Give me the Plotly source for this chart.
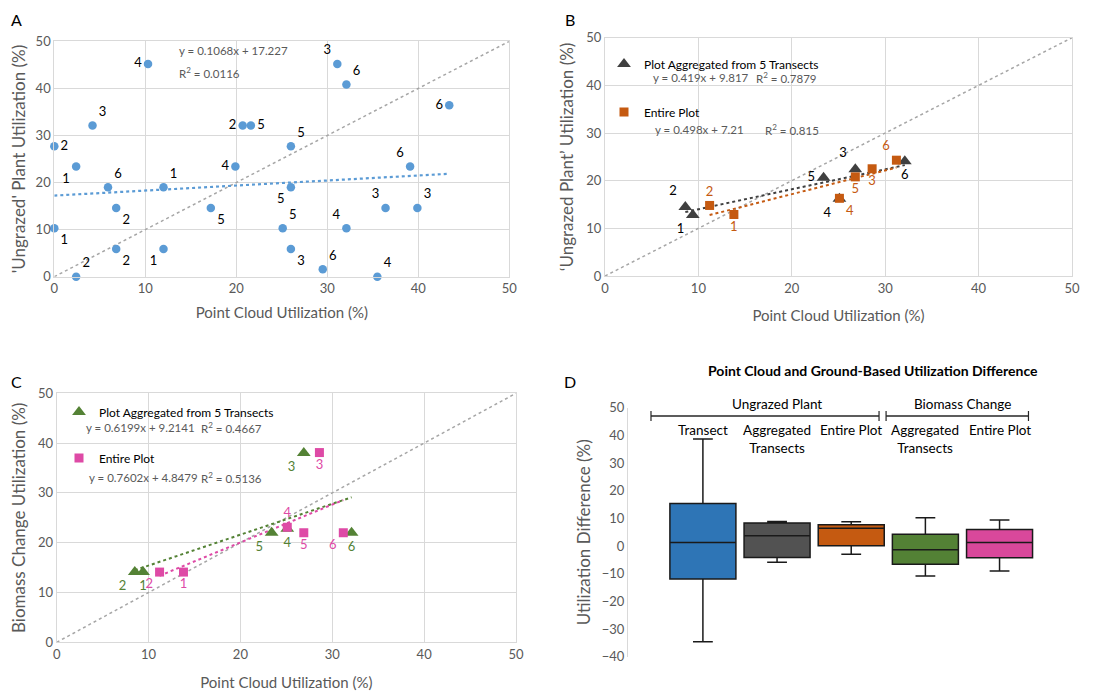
import plotly.graph_objects as go

W, H = 1108, 693
PAGE_OFF = 8  # browser body margin
FONT = "Lato"
GRAY_TXT = "#595959"
GRID = "#d9d9d9"

# ---------------- Panel A data ----------------
A_x = [0, 2.4, 4.2, 10.3, 5.9, 12.0, 6.8, 0, 6.8, 12.0, 2.4, 17.2, 19.9, 20.7,
       21.6, 26.0, 26.0, 25.1, 26.0, 29.5, 31.1, 32.1, 32.1, 35.5, 36.4, 39.1, 39.9, 43.4]
A_y = [27.7, 23.4, 32.1, 45.2, 19.0, 19.0, 14.6, 10.3, 5.9, 5.9, 0, 14.6, 23.4, 32.1,
       32.1, 27.7, 19.0, 10.3, 5.9, 1.6, 45.2, 40.8, 10.3, 0, 14.6, 23.4, 14.6, 36.4]
A_lab = ["2", "1", "3", "4", "6", "1", "2", "1", "2", "1", "2", "5", "4", "2",
         "5", "5", "5", "5", "3", "6", "3", "6", "4", "4", "3", "6", "3", "6"]
A_pos = ["middle right", "bottom left", "top right", "middle left", "top right", "top right",
         "bottom right", "bottom right", "bottom right", "bottom left", "top right", "bottom right",
         "middle left", "middle left", "middle right", "top right", "bottom left", "top right",
         "bottom right", "top right", "top left", "top right", "top left", "top right",
         "top left", "top left", "top right", "middle left"]
A_fit = (0.1068, 17.227)
A_r2 = 0.0116

# ---------------- Panel B data ----------------
B_tri_x = [8.6, 9.4, 23.4, 25.1, 26.8, 32.1]
B_tri_y = [14.5, 12.8, 20.6, 16.2, 22.4, 24.1]
B_tri_lab = ["2", "1", "5", "4", "3", "6"]
B_tri_pos = ["top left", "bottom left", "middle left", "bottom left", "top left", "bottom center"]
B_sq_x = [11.2, 13.8, 25.1, 26.8, 28.6, 31.2]
B_sq_y = [14.8, 12.9, 16.3, 20.8, 22.5, 24.3]
B_sq_lab = ["2", "1", "4", "5", "3", "6"]
B_sq_pos = ["top center", "bottom center", "bottom right", "bottom center", "bottom center", "top left"]
B_tri_fit = (0.419, 9.817)
B_sq_fit = (0.498, 7.21)
B_r2 = (0.7879, 0.815)

# ---------------- Panel C data ----------------
C_tri_x = [8.5, 9.4, 23.4, 25.1, 26.9, 32.1]
C_tri_y = [14.1, 14.1, 22.0, 22.8, 38.0, 22.0]
C_tri_lab = ["2", "1", "5", "4", "3", "6"]
C_tri_pos = ["bottom left", "bottom center", "bottom left", "bottom center", "bottom left", "bottom center"]
C_sq_x = [11.2, 13.8, 25.1, 26.9, 28.6, 31.2]
C_sq_y = [14.1, 14.1, 23.1, 22.0, 38.1, 22.0]
C_sq_lab = ["2", "1", "4", "5", "3", "6"]
C_sq_pos = ["bottom left", "bottom center", "top center", "bottom center", "bottom center", "bottom left"]
C_tri_fit = (0.6199, 9.2141)
C_sq_fit = (0.7602, 4.8479)
C_r2 = (0.4667, 0.5136)

ONE_TO_ONE = [0, 50]

# ---------------- Panel D data ----------------
D_names = ["Transect", "Aggregated<br>Transects", "Entire Plot", "Aggregated<br>Transects", "Entire Plot"]
D_lower = [-34.6, -5.9, -3.0, -10.8, -9.0]
D_q1 = [-11.9, -4.1, 0.1, -6.6, -4.2]
D_med = [1.3, 3.7, 6.4, -1.3, 1.3]
D_q3 = [15.4, 8.3, 7.7, 4.3, 6.0]
D_upper = [38.7, 8.9, 8.8, 10.2, 9.4]
D_colors = ["#2E75B6", "#525252", "#C55A11", "#538135", "#D9489B"]
D_groups = ["Ungrazed Plant", "Biomass Change"]

C_BLUE = "#5B9BD5"
C_TRI_B = "#404040"
C_SQ_B = "#C55A11"
C_TRI_C = "#548235"
C_SQ_C = "#DE4AA6"


def fx(p):
    return (p - PAGE_OFF) / W


def fy(p):
    return 1 - (p - PAGE_OFF) / H


def fit_line(xs, coef):
    x0, x1 = min(xs), max(xs)
    return [x0, x1], [coef[0] * x0 + coef[1], coef[0] * x1 + coef[1]]


fig = go.Figure()
DIAG = dict(color="#A6A6A6", width=1.5, dash="dot")

# ---- A ----
fig.add_trace(go.Scatter(x=ONE_TO_ONE, y=ONE_TO_ONE, mode="lines", xaxis="x", yaxis="y",
                         line=DIAG, showlegend=False, hoverinfo="skip"))
lx, ly = fit_line([0] + A_x, A_fit)
fig.add_trace(go.Scatter(x=lx, y=ly, mode="lines", xaxis="x", yaxis="y",
                         line=dict(color=C_BLUE, width=2.2, dash="dot"), showlegend=False))
fig.add_trace(go.Scatter(x=A_x, y=A_y, mode="markers+text", text=A_lab, textposition=A_pos,
                         textfont=dict(family=FONT, size=13, color="black"), xaxis="x", yaxis="y",
                         marker=dict(color=C_BLUE, size=8.5), showlegend=False, cliponaxis=False))

# ---- B ----
fig.add_trace(go.Scatter(x=ONE_TO_ONE, y=ONE_TO_ONE, mode="lines", xaxis="x2", yaxis="y2",
                         line=DIAG, showlegend=False))
lx, ly = fit_line(B_tri_x, B_tri_fit)
fig.add_trace(go.Scatter(x=lx, y=ly, mode="lines", xaxis="x2", yaxis="y2",
                         line=dict(color=C_TRI_B, width=2, dash="dot"), showlegend=False))
lx, ly = fit_line(B_sq_x, B_sq_fit)
fig.add_trace(go.Scatter(x=lx, y=ly, mode="lines", xaxis="x2", yaxis="y2",
                         line=dict(color=C_SQ_B, width=2, dash="dot"), showlegend=False))
fig.add_trace(go.Scatter(x=B_tri_x, y=B_tri_y, mode="markers+text", text=B_tri_lab,
                         textposition=B_tri_pos, name="Plot Aggregated from 5 Transects",
                         textfont=dict(family=FONT, size=13, color="black"), xaxis="x2", yaxis="y2",
                         marker=dict(color=C_TRI_B, size=12, symbol="triangle-up"),
                         legend="legend", legendgroup="bt", cliponaxis=False))
fig.add_trace(go.Scatter(x=B_sq_x, y=B_sq_y, mode="markers+text", text=B_sq_lab,
                         textposition=B_sq_pos, name="Entire Plot",
                         textfont=dict(family=FONT, size=13, color=C_SQ_B), xaxis="x2", yaxis="y2",
                         marker=dict(color=C_SQ_B, size=9, symbol="square"),
                         legend="legend", legendgroup="bs", cliponaxis=False))

# ---- C ----
fig.add_trace(go.Scatter(x=ONE_TO_ONE, y=ONE_TO_ONE, mode="lines", xaxis="x3", yaxis="y3",
                         line=DIAG, showlegend=False))
lx, ly = fit_line(C_tri_x, C_tri_fit)
fig.add_trace(go.Scatter(x=lx, y=ly, mode="lines", xaxis="x3", yaxis="y3",
                         line=dict(color=C_TRI_C, width=2, dash="dot"), showlegend=False))
lx, ly = fit_line(C_sq_x, C_sq_fit)
fig.add_trace(go.Scatter(x=lx, y=ly, mode="lines", xaxis="x3", yaxis="y3",
                         line=dict(color=C_SQ_C, width=2, dash="dot"), showlegend=False))
fig.add_trace(go.Scatter(x=C_tri_x, y=C_tri_y, mode="markers+text", text=C_tri_lab,
                         textposition=C_tri_pos, name="Plot Aggregated from 5 Transects",
                         textfont=dict(family=FONT, size=13, color=C_TRI_C), xaxis="x3", yaxis="y3",
                         marker=dict(color=C_TRI_C, size=12, symbol="triangle-up"),
                         legend="legend2", legendgroup="ct", cliponaxis=False))
fig.add_trace(go.Scatter(x=C_sq_x, y=C_sq_y, mode="markers+text", text=C_sq_lab,
                         textposition=C_sq_pos, name="Entire Plot",
                         textfont=dict(family=FONT, size=13, color=C_SQ_C), xaxis="x3", yaxis="y3",
                         marker=dict(color=C_SQ_C, size=9, symbol="square"),
                         legend="legend2", legendgroup="cs", cliponaxis=False))

# ---- D ----
for i in range(len(D_names)):
    fig.add_trace(go.Box(x=[i], q1=[D_q1[i]], median=[D_med[i]], q3=[D_q3[i]],
                         lowerfence=[D_lower[i]], upperfence=[D_upper[i]],
                         xaxis="x4", yaxis="y4", width=0.89, whiskerwidth=0.3,
                         fillcolor=D_colors[i], line=dict(color="#1a1a1a", width=1.5),
                         boxpoints=False, showlegend=False))

scatter_axis = dict(range=[0, 50], dtick=10, showgrid=True, gridcolor=GRID, gridwidth=1,
                    showline=True, linecolor=GRID, mirror=True, zeroline=False,
                    tickfont=dict(family=FONT, size=13, color=GRAY_TXT), ticks="")
XT = dict(family=FONT, size=15, color=GRAY_TXT)
YT = dict(family=FONT, size=17, color=GRAY_TXT)

fig.update_layout(
    width=W, height=H, paper_bgcolor="white", plot_bgcolor="white",
    margin=dict(l=0, r=0, t=0, b=0, autoexpand=False),
    font=dict(family=FONT),
    xaxis=dict(scatter_axis, domain=[fx(54.3), fx(509.3)], anchor="y",
               title=dict(text="Point Cloud Utilization (%)", standoff=12, font=XT)),
    yaxis=dict(scatter_axis, domain=[fy(276.7), fy(41.3)], anchor="x",
               title=dict(text="'Ungrazed' Plant Utilization (%)", standoff=8, font=YT)),
    xaxis2=dict(scatter_axis, domain=[fx(605), fx(1072)], anchor="y2",
                title=dict(text="Point Cloud Utilization (%)", standoff=15, font=XT)),
    yaxis2=dict(scatter_axis, domain=[fy(276), fy(37.7)], anchor="x2",
                title=dict(text="\u2018Ungrazed Plant\u2019 Utilization (%)", standoff=8, font=YT)),
    xaxis3=dict(scatter_axis, domain=[fx(56.7), fx(516)], anchor="y3",
                title=dict(text="Point Cloud Utilization (%)", standoff=16, font=XT)),
    yaxis3=dict(scatter_axis, domain=[fy(642.3), fy(393.3)], anchor="x3",
                title=dict(text="Biomass Change Utilization (%)", standoff=9, font=YT)),
    xaxis4=dict(domain=[fx(628), fx(1070)], anchor="y4", range=[-1.01, 4.95],
                showgrid=False, zeroline=False, showline=False, showticklabels=False),
    yaxis4=dict(domain=[fy(656.7), fy(407.7)], anchor="x4", range=[-40, 50], dtick=10,
                showgrid=False, zeroline=False, showline=True, linecolor=GRID, ticks="",
                tickfont=dict(family=FONT, size=13, color=GRAY_TXT),
                title=dict(text="Utilization Difference (%)", standoff=6, font=YT)),
    legend=dict(x=fx(604), y=fy(49.5), xanchor="left", yanchor="top", bgcolor="rgba(0,0,0,0)",
                font=dict(family=FONT, size=12, color="black"), tracegroupgap=29,
                itemclick=False),
    legend2=dict(x=fx(59), y=fy(397.5), xanchor="left", yanchor="top", bgcolor="rgba(0,0,0,0)",
                 font=dict(family=FONT, size=12, color="black"), tracegroupgap=27,
                 itemclick=False),
)

ann = []
eq_font = dict(family=FONT, size=11.5, color=GRAY_TXT)
# Panel letters
for letter, px, py in [("A", 16, 8), ("B", 570, 8), ("C", 16, 370), ("D", 570, 370)]:
    ann.append(dict(text=letter, x=fx(px), y=fy(py), xref="paper", yref="paper",
                    xanchor="center", yanchor="top",
                    showarrow=False, font=dict(family=FONT, size=16, color="black")))


def eq(text, px, py):
    return dict(text=text, x=fx(px), y=fy(py), xref="paper", yref="paper",
                xanchor="left", yanchor="middle", showarrow=False, font=eq_font)


ann.append(eq(f"y = {A_fit[0]}x + {A_fit[1]}", 177, 51))
ann.append(eq(f"R<sup>2</sup> = {A_r2}", 177, 72))
ann.append(eq(f"y = {B_tri_fit[0]}x + {B_tri_fit[1]}", 651, 78))
ann.append(eq(f"R<sup>2</sup> = {B_r2[0]}", 754, 78))
ann.append(eq(f"y = {B_sq_fit[0]}x + {B_sq_fit[1]}", 653, 130))
ann.append(eq(f"R<sup>2</sup> = {B_r2[1]}", 763, 130))
ann.append(eq(f"y = {C_tri_fit[0]}x + {C_tri_fit[1]}", 84, 427))
ann.append(eq(f"R<sup>2</sup> = {C_r2[0]}", 199, 427))
ann.append(eq(f"y = {C_sq_fit[0]}x + {C_sq_fit[1]}", 87, 477))
ann.append(eq(f"R<sup>2</sup> = {C_r2[1]}", 199, 477))
# Panel D title and labels
ann.append(dict(text="<b>Point Cloud and Ground-Based Utilization Difference</b>", x=fx(873), y=fy(370),
                xref="paper", yref="paper", xanchor="center", yanchor="middle", showarrow=False,
                font=dict(family=FONT, size=14, color="black")))
ann.append(dict(text=D_groups[0], x=1.0, y=fy(404), xref="x4", yref="paper", showarrow=False,
                xanchor="center", yanchor="middle", font=dict(family=FONT, size=13.5, color="black")))
ann.append(dict(text=D_groups[1], x=3.5, y=fy(404), xref="x4", yref="paper", showarrow=False,
                xanchor="center", yanchor="middle", font=dict(family=FONT, size=13.5, color="black")))
for i, name in enumerate(D_names):
    ann.append(dict(text=name, x=i, y=fy(420), xref="x4", yref="paper", showarrow=False,
                    xanchor="center", yanchor="top", font=dict(family=FONT, size=13.5, color="black")))
fig.update_layout(annotations=ann)

# Brackets over groups in panel D
shapes = []
for x0, x1 in [(-0.70, 2.375), (2.47, 4.39)]:
    shapes.append(dict(type="line", xref="x4", yref="paper", x0=x0, x1=x1, y0=fy(416), y1=fy(416),
                       line=dict(color="#262626", width=1.5)))
    for xe in (x0, x1):
        shapes.append(dict(type="line", xref="x4", yref="paper", x0=xe, x1=xe, y0=fy(411), y1=fy(421),
                           line=dict(color="#262626", width=1.2)))
fig.update_layout(shapes=shapes)

fig.write_html("out.html")
